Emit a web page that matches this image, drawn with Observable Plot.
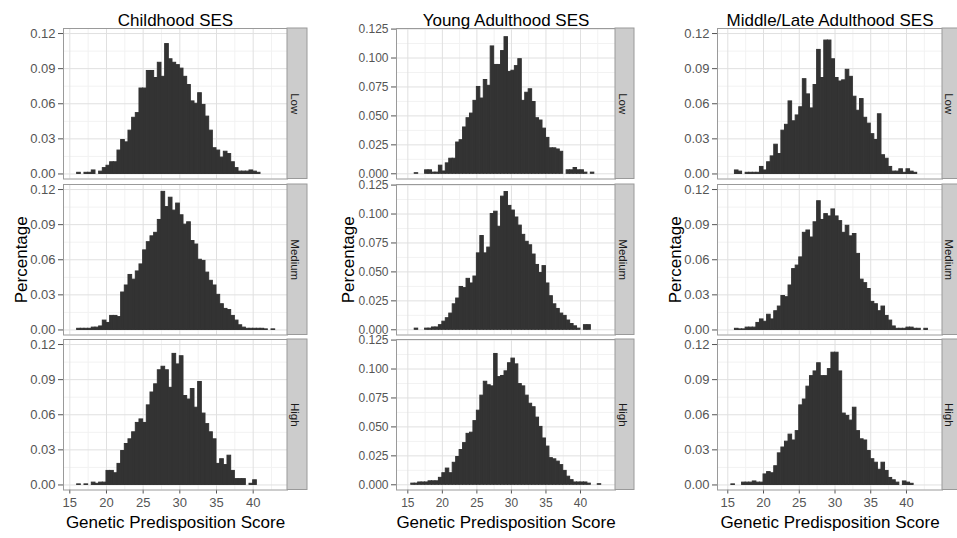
<!DOCTYPE html>
<html><head><meta charset="utf-8">
<script src="https://cdn.jsdelivr.net/npm/d3@7"></script>
<script src="https://cdn.jsdelivr.net/npm/@observablehq/plot@0.6"></script>
<style>
html,body{margin:0;padding:0;background:#fff;}
#chart{position:relative;width:957px;height:538px;overflow:hidden;background:#fff;}
#chart svg{position:absolute;}
</style></head><body><div id="chart"></div>
<script>
// ---- data ----
const binStarts = [15.5, 16, 16.5, 17, 17.5, 18, 18.5, 19, 19.5, 20,
  20.5, 21, 21.5, 22, 22.5, 23, 23.5, 24, 24.5, 25,
  25.5, 26, 26.5, 27, 27.5, 28, 28.5, 29, 29.5, 30,
  30.5, 31, 31.5, 32, 32.5, 33, 33.5, 34, 34.5, 35,
  35.5, 36, 36.5, 37, 37.5, 38, 38.5, 39, 39.5, 40,
  40.5, 41, 41.5, 42, 42.5];
const binWidth = 0.5;

const childhoodLow = [0, .001, 0, .001, .001, .003, 0, .002, .005, .007,
  .010, .010, .020, .029, .027, .037, .048, .052, .073, .073,
  .088, .088, .082, .095, .083, .111, .098, .095, .093, .090,
  .083, .076, .062, .060, .069, .059, .049, .037, .022, .020,
  .014, .019, .017, .010, .005, .002, .002, .002, .003, .002,
  .001, 0, 0, 0, 0];
const childhoodMedium = [0, .001, .001, .001, .001, .002, .002, .003, .008, .006,
  .012, .012, .011, .032, .038, .047, .043, .050, .056, .068,
  .075, .080, .083, .094, .118, .105, .113, .102, .108, .098,
  .090, .092, .076, .073, .060, .059, .049, .042, .038, .030,
  .022, .018, .017, .012, .008, .004, .002, .001, .001, .001,
  .001, .001, .0005, 0, .0005];
const childhoodHigh = [0, .0005, 0, .0005, 0, .002, .001, .002, .002, .012,
  .012, .010, .018, .029, .035, .039, .045, .053, .056, .053,
  .068, .079, .086, .098, .101, .098, .083, .112, .103, .110,
  .076, .073, .082, .066, .088, .061, .052, .045, .039, .018,
  .022, .017, .025, .012, .005, .005, .005, 0, .001, .004,
  0, 0, 0, 0, 0];

const youngLow = [0, .0005, 0, 0, .003, .003, .001, .001, .007, .002,
  .009, .013, .013, .027, .029, .040, .048, .052, .063, .075,
  .065, .081, .076, .110, .094, .094, .106, .118, .088, .089,
  .093, .099, .063, .070, .073, .062, .048, .046, .039, .031,
  .022, .022, .021, .019, 0, .003, .003, .005, .003, .003,
  .001, 0, .001, 0, 0];
const youngMedium = [0, .001, 0, 0, .001, .001, .002, .002, .004, .007,
  .010, .014, .022, .027, .037, .036, .044, .040, .046, .066,
  .081, .066, .071, .100, .102, .089, .115, .119, .107, .103,
  .097, .090, .082, .076, .073, .065, .056, .049, .055, .040,
  .029, .022, .018, .014, .012, .008, .005, .003, .001, 0,
  .004, .004, 0, 0, 0];
const youngHigh = [.001, .001, .002, .002, .002, .003, .003, .003, .006, .010,
  .014, .010, .019, .024, .030, .036, .044, .045, .055, .064,
  .077, .089, .086, .085, .113, .093, .094, .098, .105, .109,
  .104, .087, .085, .077, .070, .067, .058, .050, .040, .033,
  .023, .022, .020, .017, .012, .007, .004, .002, .002, .002,
  .002, .001, 0, 0, .0005];

const middleLow = [0, .003, .002, 0, .001, .001, .001, .001, .006, .003,
  .010, .015, .025, .017, .037, .042, .062, .045, .050, .057,
  .081, .068, .056, .076, .106, .082, .114, .114, .098, .082,
  .079, .080, .089, .083, .066, .054, .064, .048, .043, .034,
  .029, .051, .016, .013, .006, .002, .002, .004, .001, .004,
  .002, .001, 0, 0, 0];
const middleMedium = [0, .001, .0005, .0005, .002, .002, .002, .006, .009, .007,
  .013, .009, .016, .020, .029, .028, .038, .052, .055, .062,
  .083, .085, .079, .092, .110, .094, .099, .097, .103, .097,
  .093, .083, .089, .080, .082, .065, .043, .040, .035, .024,
  .022, .016, .020, .012, .008, .003, .001, .001, .001, .002,
  .002, .001, .001, 0, .001];
const middleHigh = [.0005, 0, 0, .002, .002, .002, .003, .002, .002, .009,
  .011, .010, .016, .027, .032, .037, .043, .038, .046, .068,
  .073, .084, .093, .097, .104, .093, .093, .099, .113, .113,
  .097, .061, .059, .055, .066, .046, .039, .038, .029, .022,
  .019, .013, .019, .012, .006, .004, .002, 0, .003, .002,
  .001, 0, 0, 0, 0];

const columnTitles = ["Childhood SES", "Young Adulthood SES", "Middle/Late Adulthood SES"];
const rowLabels = ["Low", "Medium", "High"];
const xTicks = [15, 20, 25, 30, 35, 40];
const xMinorTicks = [17.5, 22.5, 27.5, 32.5, 37.5, 42.5];
const yTicksA = [0, 0.03, 0.06, 0.09, 0.12];
const yMinorA = [0.015, 0.045, 0.075, 0.105];
const yTicksB = [0, 0.025, 0.05, 0.075, 0.1, 0.125];
const yMinorB = [0.0125, 0.0375, 0.0625, 0.0875, 0.1125];
const xLabel = "Genetic Predisposition Score";
const yLabel = "Percentage";

// ---- layout ----
const columns = [
  {title: columnTitles[0], series: [childhoodLow, childhoodMedium, childhoodHigh],
   left: 63, width: 224, strip: 20, stripText: 7, xDomain: [14.14, 44.68], yDomain: [-0.0043, 0.1243],
   yTicks: yTicksA, yMinor: yMinorA, fmt: ".2f", ylabDx: -42, tickFont: "13px"},
  {title: columnTitles[1], series: [youngLow, youngMedium, youngHigh],
   left: 396, width: 219, strip: 19, stripText: 7, xDomain: [13.36, 45.07], yDomain: [-0.0045, 0.1255],
   yTicks: yTicksB, yMinor: yMinorB, fmt: ".3f", ylabDx: -48, tickFont: "12px"},
  {title: columnTitles[2], series: [middleLow, middleMedium, middleHigh],
   left: 717, width: 225, strip: 20, stripText: 6.5, xDomain: [13.56, 45.04], yDomain: [-0.0043, 0.1243],
   yTicks: yTicksA, yMinor: yMinorA, fmt: ".2f", ylabDx: -42, tickFont: "13px"}
];
const rowTops = [28, 183.5, 339];
const panelH = 150.5;
const font = "'Liberation Sans', Arial, sans-serif";
const chart = document.getElementById("chart");

columns.forEach(col => {
  rowLabels.forEach((rowLabel, r) => {
    const ML = 62, MR = col.strip + 2;
    const MT = r === 0 ? 32 : 0;
    const MB = r === 2 ? 48 : 0;
    const data = binStarts.map((b, i) => ({x1: b, x2: b + binWidth, v: col.series[r][i]}));
    const span = col.xDomain[1] - col.xDomain[0];
    const stripEnd = col.xDomain[1] + col.strip * span / col.width;
    const marks = [
      Plot.ruleX(xMinorTicks, {stroke: "#f2f2f2"}),
      Plot.ruleY(col.yMinor, {stroke: "#f2f2f2"}),
      Plot.ruleX(xTicks, {stroke: "#e0e0e0"}),
      Plot.ruleY(col.yTicks, {stroke: "#e0e0e0"}),
      Plot.rect(data, {filter: d => d.v > 0, x1: "x1", x2: "x2", y1: 0, y2: "v", inset: 0,
        fill: "#333333", stroke: "#333333", strokeWidth: 1}),
      Plot.frame({stroke: "#9a9a9a"}),
      Plot.rect([rowLabel], {x1: col.xDomain[1], x2: stripEnd, y1: col.yDomain[0], y2: col.yDomain[1],
        fill: "#cccccc", stroke: "#9a9a9a"}),
      Plot.text([rowLabel], {text: d => d, frameAnchor: "right", dx: col.stripText, rotate: 90,
        fontSize: 11.5, fill: "#1a1a1a", textAnchor: "middle", lineAnchor: "middle"})
    ];
    if (r === 0) marks.push(Plot.text([col.title], {text: d => d, frameAnchor: "top", dy: -3,
      lineAnchor: "bottom", fontSize: 17, fill: "#000"}));
    if (r === 1) marks.push(Plot.text([yLabel], {text: d => d, frameAnchor: "left", dx: col.ylabDx,
      rotate: -90, fontSize: 17, fill: "#000", textAnchor: "middle", lineAnchor: "middle"}));
    if (r === 2) marks.push(Plot.text([xLabel], {text: d => d, frameAnchor: "bottom", dy: 38,
      lineAnchor: "bottom", fontSize: 17, fill: "#000"}));
    const svg = Plot.plot({
      width: ML + col.width + MR,
      height: MT + panelH + MB,
      marginLeft: ML, marginRight: MR, marginTop: MT, marginBottom: MB,
      style: {background: "transparent", overflow: "visible", fontFamily: font, fontSize: col.tickFont,
        color: "#555", maxWidth: "none"},
      x: {domain: col.xDomain, ticks: xTicks, tickSize: 4, tickPadding: 4, label: null,
        axis: r === 2 ? "bottom" : null},
      y: {domain: col.yDomain, ticks: col.yTicks, tickFormat: d3.format(col.fmt), tickSize: 5,
        tickPadding: 3, label: null},
      marks
    });
    svg.style.left = (col.left - ML) + "px";
    svg.style.top = (rowTops[r] - MT) + "px";
    chart.appendChild(svg);
  });
});
</script></body></html>
